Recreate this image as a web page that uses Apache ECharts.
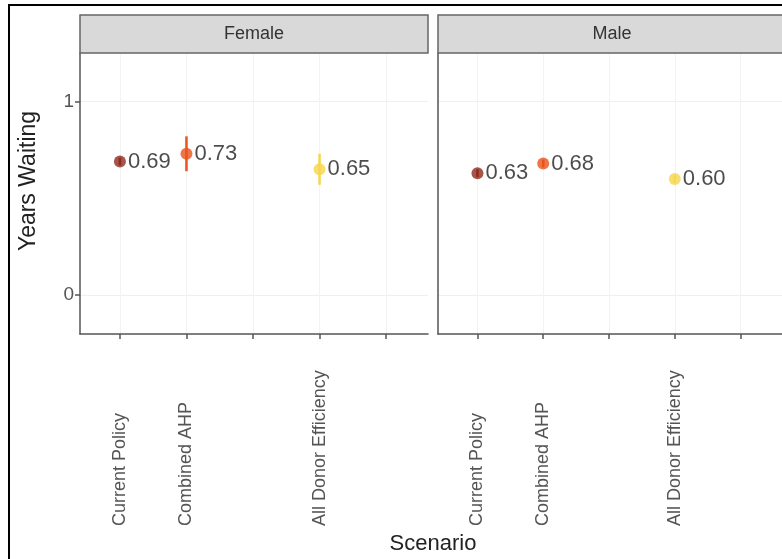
<!DOCTYPE html>
<html>
<head>
<meta charset="utf-8">
<script src="https://cdn.jsdelivr.net/npm/echarts@6/dist/echarts.min.js"></script>
<style>
html,body{margin:0;padding:0;background:#fff;}
#c{width:782px;height:559px;}
</style>
</head>
<body>
<div id="c"></div>
<script>
// ---- data ----
var categories = ['Current Policy', 'Combined AHP', '', 'All Donor Efficiency', ''];
var scenarioIndex = [0, 1, 3];
var panels = ['Female', 'Male'];
var femaleValues = [0.69, 0.73, 0.65];
var femaleLow = [0.67, 0.64, 0.57];
var femaleHigh = [0.71, 0.82, 0.73];
var maleValues = [0.63, 0.68, 0.60];
var maleLow = [0.61, 0.66, 0.58];
var maleHigh = [0.65, 0.70, 0.62];
var yTicks = [0, 1];
var xTicks = [0, 1, 2, 3, 4];
var xLabelTicks = [0, 1, 3];
var pointColors = ['#8e2a1c', '#ea531d', '#f6d64a'];

var FONT = 'Liberation Sans, Arial, sans-serif';
var chart = echarts.init(document.getElementById('c'), null, {renderer: 'canvas'});

function xAxisFor(gi) {
  return {
    type: 'value', gridIndex: gi, min: -0.6, max: 4.63,
    axisLine: {show: true, onZero: false, lineStyle: {color: '#555', width: 1.5}},
    axisTick: {show: true, customValues: xTicks, length: 5, lineStyle: {color: '#555', width: 1.5}},
    axisLabel: {
      customValues: xLabelTicks, rotate: 90, margin: 192, align: 'left',
      color: '#555', fontSize: 18, fontFamily: FONT,
      formatter: function (v) { return categories[Math.round(v)] || ''; }
    },
    splitLine: {show: true, lineStyle: {color: '#f3f3f3', width: 1}}
  };
}
function yAxisFor(gi) {
  return {
    type: 'value', gridIndex: gi, min: -0.2, max: 1.25,
    axisLine: {show: true, onZero: false, lineStyle: {color: '#555', width: 1.5}},
    axisTick: {show: gi === 0, customValues: yTicks, length: 5, lineStyle: {color: '#555', width: 1.5}},
    axisLabel: {show: gi === 0, customValues: yTicks, margin: 6, color: '#555', fontSize: 19, fontFamily: FONT},
    splitLine: {show: true, lineStyle: {color: '#efefef', width: 1}}
  };
}

function pointData(vals) {
  return vals.map(function (v, i) {
    return {value: [scenarioIndex[i], v], itemStyle: {color: pointColors[i]}};
  });
}
function barData(lo, hi) {
  return lo.map(function (l, i) { return [scenarioIndex[i], l, hi[i]]; });
}
function errRender(params, api) {
  var p1 = api.coord([api.value(0), api.value(1)]);
  var p2 = api.coord([api.value(0), api.value(2)]);
  return {type: 'line', shape: {x1: p1[0], y1: p1[1], x2: p2[0], y2: p2[1]},
          style: {stroke: pointColors[params.dataIndex], lineWidth: 2.5}};
}
function scatterSeries(gi, vals) {
  return {
    type: 'scatter', xAxisIndex: gi, yAxisIndex: gi, symbolSize: 12,
    data: pointData(vals),
    label: {show: true, position: 'right', distance: 2, color: '#1e1e1e', fontSize: 22, fontFamily: FONT,
            formatter: function (p) { return p.value[1].toFixed(2); }},
    z: 3
  };
}
function errSeries(gi, lo, hi) {
  return {type: 'custom', xAxisIndex: gi, yAxisIndex: gi, renderItem: errRender,
          data: barData(lo, hi), z: 2};
}

var strips = [{x: 80, w: 348}, {x: 438, w: 360}];
var graphics = [
  {type: 'rect', shape: {x: 9, y: 5, width: 800, height: 600}, style: {fill: 'none', stroke: '#000', lineWidth: 2}, z: 10}
];
panels.forEach(function (name, i) {
  graphics.push({type: 'rect', shape: {x: strips[i].x, y: 15, width: strips[i].w, height: 38},
                 style: {fill: '#d9d9d9', stroke: '#666', lineWidth: 1.5}, z: 5});
  graphics.push({type: 'text', x: strips[i].x + 174, y: 34,
                 style: {text: name, fill: '#333', font: '18px ' + FONT, textAlign: 'center', textVerticalAlign: 'middle'}, z: 6});
});
graphics.push({type: 'text', x: 433, y: 544,
               style: {text: 'Scenario', fill: '#222', font: '22px ' + FONT, textAlign: 'center', textVerticalAlign: 'middle'}, z: 6});
graphics.push({type: 'text', x: 29, y: 181, rotation: Math.PI / 2,
               style: {text: 'Years Waiting', fill: '#222', font: '23px ' + FONT, textAlign: 'center', textVerticalAlign: 'middle'}, z: 6});

chart.setOption({
  animation: false,
  backgroundColor: '#fff',
  grid: [
    {left: 80, top: 53, width: 348, height: 281},
    {left: 438, top: 53, width: 348, height: 281}
  ],
  xAxis: [xAxisFor(0), xAxisFor(1)],
  yAxis: [yAxisFor(0), yAxisFor(1)],
  series: [
    errSeries(0, femaleLow, femaleHigh),
    scatterSeries(0, femaleValues),
    errSeries(1, maleLow, maleHigh),
    scatterSeries(1, maleValues)
  ],
  graphic: graphics
});
</script>
</body>
</html>
